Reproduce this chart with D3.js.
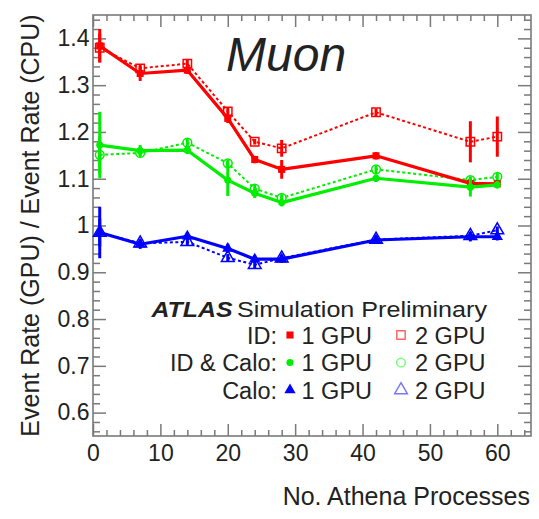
<!DOCTYPE html>
<html>
<head>
<meta charset="utf-8">
<script src="https://cdn.jsdelivr.net/npm/d3@7"></script>
<style>
  body { margin: 0; background: #fff; }
  svg { display: block; }
  text { font-family: "Liberation Sans", Arial, Helvetica, sans-serif; fill: #222; }
</style>
</head>
<body>
<svg id="chart" width="539" height="519"></svg>
<script>
// Number of Athena processes at which the event-rate ratio was measured
const processes = [1, 7, 14, 20, 24, 28, 42, 56, 60];

// ID offload
const idOneGpu      = [1.384, 1.325, 1.332, 1.229, 1.141, 1.120, 1.149, 1.090, 1.089];
const idOneGpuErr   = [0.036, 0.016, 0.008, 0.010, 0.008, 0.020, 0.008, 0.008, 0.008];
const idTwoGpu      = [1.380, 1.336, 1.346, 1.244, 1.179, 1.165, 1.242, 1.179, 1.190];
const idTwoGpuErr   = [0.030, 0.008, 0.008, 0.008, 0.006, 0.018, 0.008, 0.044, 0.043];

// ID & Calo offload
const idCaloOneGpu    = [1.172, 1.160, 1.161, 1.097, 1.069, 1.049, 1.101, 1.082, 1.087];
const idCaloOneGpuErr = [0.071, 0.012, 0.008, 0.034, 0.010, 0.008, 0.008, 0.020, 0.008];
const idCaloTwoGpu    = [1.151, 1.155, 1.177, 1.133, 1.079, 1.059, 1.120, 1.097, 1.104];
const idCaloTwoGpuErr = [0.040, 0.008, 0.008, 0.008, 0.008, 0.008, 0.008, 0.008, 0.008];

// Calo offload
const caloOneGpu    = [0.985, 0.960, 0.977, 0.951, 0.928, 0.928, 0.969, 0.976, 0.976];
const caloOneGpuErr = [0.055, 0.010, 0.008, 0.010, 0.008, 0.008, 0.008, 0.010, 0.008];
const caloTwoGpu    = [0.985, 0.962, 0.965, 0.931, 0.916, 0.930, 0.970, 0.978, 0.990];
const caloTwoGpuErr = [0.030, 0.008, 0.008, 0.008, 0.008, 0.008, 0.008, 0.008, 0.008];

const xMajorTicks = [0, 10, 20, 30, 40, 50, 60];
const yMajorTicks = [0.6, 0.7, 0.8, 0.9, 1.0, 1.1, 1.2, 1.3, 1.4];
const yTickLabels = ["0.6", "0.7", "0.8", "0.9", "1", "1.1", "1.2", "1.3", "1.4"];

const legendRows = ["ID:", "ID & Calo:", "Calo:"];
const legendColumns = ["1 GPU", "2 GPU"];

const svg = d3.select("#chart");
const frameLeft = 93, frameRight = 531, frameTop = 15, frameBottom = 436;

const x = d3.scaleLinear().domain([0, 65]).range([frameLeft, frameRight]);
const y = d3.scaleLinear().domain([0.55, 1.45]).range([frameBottom, frameTop]);

const axisColor = "#7a7a7a";
const labelFont = "Liberation Sans, Arial, sans-serif";

// minor tick positions
const xMinor = d3.range(2, 65, 2).filter(v => v % 10 !== 0);
const yMinor = d3.range(56, 145, 2).map(v => v / 100).filter(v => Math.round(v * 100) % 10 !== 0);

function styleAxis(g) {
  g.select(".domain").remove();
  g.selectAll(".tick line").attr("stroke", axisColor).attr("stroke-width", 1.5);
}

// bottom axis with labels
svg.append("g").attr("transform", `translate(0,${frameBottom})`)
  .call(d3.axisBottom(x).tickValues(xMajorTicks).tickSizeInner(-12).tickSizeOuter(0).tickPadding(8.5).tickFormat(d3.format("d")))
  .call(styleAxis)
  .call(g => g.selectAll("text").attr("font-size", 23).attr("fill", "#222").attr("font-family", labelFont));
svg.append("g").attr("transform", `translate(0,${frameBottom})`)
  .call(d3.axisBottom(x).tickValues(xMinor).tickSizeInner(-6).tickSizeOuter(0).tickFormat(""))
  .call(styleAxis);

// top mirrored ticks
svg.append("g").attr("transform", `translate(0,${frameTop})`)
  .call(d3.axisTop(x).tickValues(xMajorTicks).tickSizeInner(-12).tickSizeOuter(0).tickFormat(""))
  .call(styleAxis);
svg.append("g").attr("transform", `translate(0,${frameTop})`)
  .call(d3.axisTop(x).tickValues(xMinor).tickSizeInner(-6).tickSizeOuter(0).tickFormat(""))
  .call(styleAxis);

// left axis with labels
svg.append("g").attr("transform", `translate(${frameLeft},0)`)
  .call(d3.axisLeft(y).tickValues(yMajorTicks).tickSizeInner(-13).tickSizeOuter(0).tickPadding(3.5)
      .tickFormat((d, i) => yTickLabels[i]))
  .call(styleAxis)
  .call(g => g.selectAll("text").attr("font-size", 23).attr("fill", "#222").attr("font-family", labelFont));
svg.append("g").attr("transform", `translate(${frameLeft},0)`)
  .call(d3.axisLeft(y).tickValues(yMinor).tickSizeInner(-7).tickSizeOuter(0).tickFormat(""))
  .call(styleAxis);

// right mirrored ticks
svg.append("g").attr("transform", `translate(${frameRight},0)`)
  .call(d3.axisRight(y).tickValues(yMajorTicks).tickSizeInner(-13).tickSizeOuter(0).tickFormat(""))
  .call(styleAxis);
svg.append("g").attr("transform", `translate(${frameRight},0)`)
  .call(d3.axisRight(y).tickValues(yMinor).tickSizeInner(-7).tickSizeOuter(0).tickFormat(""))
  .call(styleAxis);

// frame
svg.append("rect")
  .attr("x", frameLeft).attr("y", frameTop)
  .attr("width", frameRight - frameLeft).attr("height", frameBottom - frameTop)
  .attr("fill", "none").attr("stroke", axisColor).attr("stroke-width", 1.6);

// axis titles
svg.append("text")
  .attr("x", 530).attr("y", 505)
  .attr("text-anchor", "end")
  .attr("font-size", 25)
  .text("No. Athena Processes");

svg.append("text")
  .attr("transform", `translate(39,${(frameTop + frameBottom) / 2}) rotate(-90)`)
  .attr("text-anchor", "middle")
  .attr("font-size", 25)
  .text("Event Rate (GPU) / Event Rate (CPU)");

// "Muon" tag
svg.append("text")
  .attr("x", 226).attr("y", 71)
  .attr("font-size", 48)
  .attr("font-style", "italic")
  .attr("fill", "#000")
  .text("Muon");

// series definitions
const series = [
  { vals: idTwoGpu,     errs: idTwoGpuErr,     color: "#ff0000", dashed: true,  shape: "square" },
  { vals: idCaloTwoGpu, errs: idCaloTwoGpuErr, color: "#00ee00", dashed: true,  shape: "circle" },
  { vals: caloTwoGpu,   errs: caloTwoGpuErr,   color: "#0000ff", dashed: true,  shape: "triangle" },
  { vals: idOneGpu,     errs: idOneGpuErr,     color: "#ff0000", dashed: false, shape: "square" },
  { vals: idCaloOneGpu, errs: idCaloOneGpuErr, color: "#00ee00", dashed: false, shape: "circle" },
  { vals: caloOneGpu,   errs: caloOneGpuErr,   color: "#0000ff", dashed: false, shape: "triangle" }
];

function symbolPath(shape, open) {
  const type = shape === "square" ? d3.symbolSquare : shape === "circle" ? d3.symbolCircle : d3.symbolTriangle;
  const size = open ? (shape === "triangle" ? 70 : shape === "square" ? 70 : 60)
                    : (shape === "triangle" ? 55 : shape === "square" ? 50 : 40);
  return d3.symbol().type(type).size(size)();
}

const line = d3.line().x((d, i) => x(processes[i])).y(d => y(d));
const plot = svg.append("g");

series.forEach(s => {
  const g = plot.append("g");
  g.append("path")
    .datum(s.vals)
    .attr("d", line)
    .attr("fill", "none")
    .attr("stroke", s.color)
    .attr("stroke-width", s.dashed ? 2 : 3.2)
    .attr("stroke-dasharray", s.dashed ? "3,2.5" : null)
    .attr("stroke-linejoin", "round");

  g.selectAll("line.err")
    .data(s.vals)
    .join("line")
    .attr("class", "err")
    .attr("x1", (d, i) => x(processes[i]))
    .attr("x2", (d, i) => x(processes[i]))
    .attr("y1", (d, i) => y(d - s.errs[i]))
    .attr("y2", (d, i) => y(d + s.errs[i]))
    .attr("stroke", s.color)
    .attr("stroke-width", 3);

  g.selectAll("path.mk")
    .data(s.vals)
    .join("path")
    .attr("class", "mk")
    .attr("transform", (d, i) => `translate(${x(processes[i])},${y(d)})`)
    .attr("d", symbolPath(s.shape, s.dashed))
    .attr("fill", s.dashed ? "#fff" : s.color)
    .attr("fill-opacity", s.dashed ? 0 : 1)
    .attr("stroke", s.color)
    .attr("stroke-width", s.dashed ? 1.5 : 0);
});

// legend
const legend = svg.append("g");
legend.append("text")
  .attr("x", 151.5).attr("y", 317)
  .attr("font-size", 22)
  .attr("font-weight", "bold").attr("font-style", "italic")
  .attr("fill", "#000")
  .attr("textLength", 81).attr("lengthAdjust", "spacingAndGlyphs")
  .text("ATLAS");
legend.append("text")
  .attr("x", 237).attr("y", 317)
  .attr("font-size", 22)
  .attr("textLength", 250).attr("lengthAdjust", "spacingAndGlyphs")
  .text("Simulation Preliminary");

const rowY = [343.5, 371, 398.5];
const rowColors = ["#ff0000", "#00ee00", "#0000ff"];
const rowShapes = ["square", "circle", "triangle"];
const rowOpenColors = ["#ff6666", "#77ff77", "#7777ff"];

legendRows.forEach((label, r) => {
  const yy = rowY[r];
  legend.append("text")
    .attr("x", 277).attr("y", yy)
    .attr("text-anchor", "end")
    .attr("font-size", 23.5)
    .text(label);
  legend.append("path")
    .attr("transform", `translate(290,${yy - 8.5})`)
    .attr("d", symbolPath(rowShapes[r], false))
    .attr("fill", rowColors[r]);
  legend.append("text")
    .attr("x", 301.5).attr("y", yy)
    .attr("font-size", 23.5)
    .text(legendColumns[0]);
  legend.append("path")
    .attr("transform", `translate(401,${yy - 8.5})`)
    .attr("d", symbolPath(rowShapes[r], true))
    .attr("fill", "none")
    .attr("stroke", rowOpenColors[r])
    .attr("stroke-width", 1.5);
  legend.append("text")
    .attr("x", 415).attr("y", yy)
    .attr("font-size", 23.5)
    .text(legendColumns[1]);
});
</script>
</body>
</html>
